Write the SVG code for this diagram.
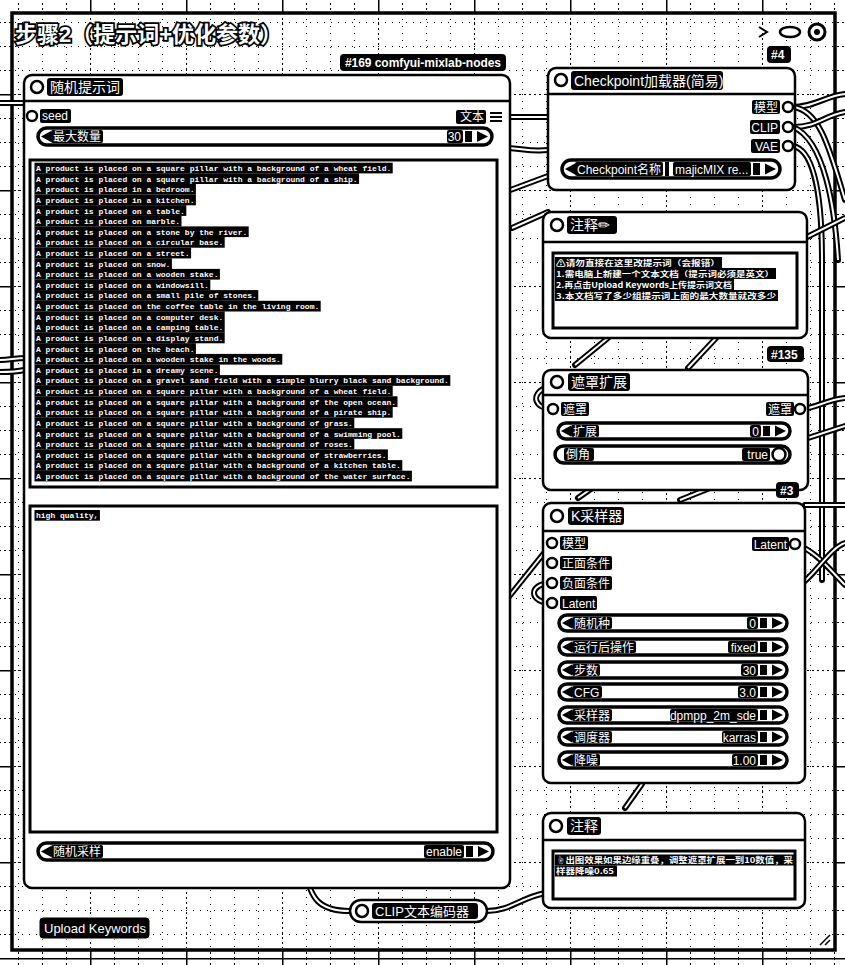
<svg xmlns="http://www.w3.org/2000/svg" width="845" height="965" viewBox="0 0 845 965">
<defs>
<style>
text{font-family:"Liberation Sans","Noto Sans CJK SC",sans-serif}
.node{fill:#fff;stroke:#000;stroke-width:2.5}
.sep{stroke:#000;stroke-width:2.5}
.dot{fill:#fff;stroke:#000;stroke-width:2.5}
.bg{fill:#000}
.wt{fill:#fff;font-size:12px}
.tt{fill:#fff;font-size:14px}
.w{fill:#fff;stroke:#000;stroke-width:3.5}
.tri{fill:#000}
.ta{fill:#fff;stroke:#000;stroke-width:3}
text.mono,.mono text{font-family:"Liberation Mono","Noto Sans CJK SC",monospace;font-size:8px;fill:#fff;font-weight:bold}
text.note{font-family:"Noto Sans CJK SC",sans-serif;font-size:7.6px;fill:#fff;font-weight:bold}
.lk{fill:none;stroke:#000;stroke-width:6;stroke-linecap:round}
.lki{fill:none;stroke:#fff;stroke-width:2}
.bt{fill:#fff;font-size:12px;font-weight:bold}
</style>
<pattern id="gridOut" x="-6" y="-2" width="96" height="96" patternUnits="userSpaceOnUse">
<path d="M0 24.5H96M0 48.5H96M0 72.5H96M24.5 0V96M48.5 0V96M72.5 0V96" stroke="#000" stroke-width="1" stroke-dasharray="2 3" fill="none"/>
<path d="M0 0.75H96M0.75 0V96" stroke="#000" stroke-width="1.5" fill="none"/>
</pattern>
<pattern id="gridIn" x="-6" y="-2" width="96" height="96" patternUnits="userSpaceOnUse">
<path d="M0 24.5H96M0 48.5H96M0 72.5H96M24.5 0V96M48.5 0V96M72.5 0V96" stroke="#000" stroke-width="1" stroke-dasharray="1 6" fill="none"/>
<path d="M0 0.5H96M0.5 0V96" stroke="#000" stroke-width="1" stroke-dasharray="2 3" fill="none"/>
</pattern>
</defs>

<rect width="845" height="965" fill="#fff"/>
<rect width="845" height="965" fill="url(#gridOut)"/>

<g id="group">
<rect x="12" y="13" width="823" height="937" fill="#fff" stroke="#000" stroke-width="3.5"/>
<rect x="14" y="15" width="819" height="933" fill="url(#gridIn)"/>
<text x="15" y="42" font-size="22" font-weight="bold" fill="#fff" stroke="#000" stroke-width="3.5" paint-order="stroke" font-family="Noto Sans CJK SC, sans-serif">步骤2（提示词+优化参数）</text>
<path d="M759,27 L767,32 L759,37" fill="none" stroke="#000" stroke-width="2"/>
<ellipse cx="790" cy="32" rx="10" ry="5" fill="#fff" stroke="#000" stroke-width="2.5"/>
<circle cx="817" cy="32" r="8" fill="#fff" stroke="#000" stroke-width="3"/>
<circle cx="817" cy="32" r="3" fill="#000"/>
<path d="M820,945 L830,935 M825,945 L830,940" stroke="#000" stroke-width="1.5"/>
</g>

<g id="links">
<path class="lk" d="M0,103 H26"/><path class="lki" d="M0,103 H26"/>
<path class="lk" d="M0,360 C10,360 15,358 26,358"/><path class="lki" d="M0,360 C10,360 15,358 26,358"/>
<path class="lk" d="M0,372 C8,372 16,372 24,370"/><path class="lki" d="M0,372 C8,372 16,372 24,370"/>
<path class="lk" d="M497,117 H548"/><path class="lki" d="M497,117 H548"/>
<path class="lk" d="M505,148 C520,148 530,152 548,150"/><path class="lki" d="M505,148 C520,148 530,152 548,150"/>
<path class="lk" d="M505,192 L548,176"/><path class="lki" d="M505,192 L548,176"/>
<path class="lk" d="M512,228 L548,212"/><path class="lki" d="M512,228 L548,212"/>
<path class="lk" d="M575,365 L608,338"/><path class="lki" d="M575,365 L608,338"/>
<path class="lk" d="M688,368 L718,336"/><path class="lki" d="M688,368 L718,336"/>
<path class="lk" d="M578,498 L598,484"/><path class="lki" d="M578,498 L598,484"/>
<path class="lk" d="M680,500 L715,486"/><path class="lki" d="M680,500 L715,486"/>
<path class="lk" d="M508,598 L552,543"/><path class="lki" d="M508,598 L552,543"/>
<path class="lk" d="M552,583 C528,583 528,603 552,603"/><path class="lki" d="M552,583 C528,583 528,603 552,603"/>
<path class="lk" d="M545,388 C530,395 535,409 553,409"/><path class="lki" d="M545,388 C530,395 535,409 553,409"/>
<path class="lk" d="M625,808 L642,784"/><path class="lki" d="M625,808 L642,784"/>
<path class="lk" d="M305,868 C310,900 320,911 350,911"/><path class="lki" d="M305,868 C310,900 320,911 350,911"/>
<path class="lk" d="M487,911 C510,911 520,898 545,893"/><path class="lki" d="M487,911 C510,911 520,898 545,893"/>
<path class="lk" d="M793,107 C815,107 825,96 845,94"/><path class="lki" d="M793,107 C815,107 825,96 845,94"/>
<path class="lk" d="M793,107 C820,110 830,150 845,200"/><path class="lki" d="M793,107 C820,110 830,150 845,200"/>
<path class="lk" d="M793,127 C818,127 825,115 845,112"/><path class="lki" d="M793,127 C818,127 825,115 845,112"/>
<path class="lk" d="M793,127 C825,140 835,210 838,260"/><path class="lki" d="M793,127 C825,140 835,210 838,260"/>
<path class="lk" d="M793,146 C815,150 822,200 822,260 L822,580"/><path class="lki" d="M793,146 C815,150 822,200 822,260 L822,580"/>
<path class="lk" d="M805,238 L845,218"/><path class="lki" d="M805,238 L845,218"/>
<path class="lk" d="M800,409 C815,409 825,400 845,398"/><path class="lki" d="M800,409 C815,409 825,400 845,398"/>
<path class="lk" d="M808,438 L845,426"/><path class="lki" d="M808,438 L845,426"/>
<path class="lk" d="M805,505 H845"/><path class="lki" d="M805,505 H845"/>
<path class="lk" d="M795,544 C815,550 830,570 845,585"/><path class="lki" d="M795,544 C815,550 830,570 845,585"/>
<path class="lk" d="M800,585 C815,575 830,548 845,543"/><path class="lki" d="M800,585 C815,575 830,548 845,543"/>
</g>

<g id="n169">
<rect x="340" y="54" width="166" height="17" rx="4" class="bg"/>
<text x="345" y="67" class="bt" textLength="156">#169 comfyui-mixlab-nodes</text>
<rect class="node" x="24" y="75" width="486" height="813" rx="8"/>
<line class="sep" x1="24" y1="101" x2="510" y2="101"/>
<circle class="dot" cx="37" cy="87" r="6"/>
<rect class="bg" x="47" y="78" width="76" height="18" rx="3"/>
<text class="tt" x="50" y="92">随机提示词</text>
<circle class="dot" cx="32" cy="116" r="5"/>
<rect class="bg" x="40" y="109" width="31" height="14" rx="2"/>
<text class="wt" x="42" y="120">seed</text>
<rect class="bg" x="456" y="110" width="30" height="14" rx="2"/>
<text class="wt" x="484" y="121" text-anchor="end">文本</text>
<path d="M490,113 H502 M490,117 H502 M490,121 H502" stroke="#000" stroke-width="2"/>
<g>
<rect class="w" x="38" y="128" width="454" height="17" rx="8.5"/>
<path class="tri" d="M41,136.5 l10,-5.5 v11 z"/>
<rect class="bg" x="51" y="130" width="52" height="13" rx="2"/>
<text class="wt" x="53" y="141">最大数量</text>
<rect class="bg" x="447" y="130" width="16" height="13" rx="2"/>
<text class="wt" x="461" y="141" text-anchor="end">30</text>
<rect class="bg" x="465" y="131" width="7" height="11"/>
<path class="tri" d="M488,136.5 l-11,-5.5 v11 z"/>
</g>
<rect class="ta" x="30" y="160" width="467" height="327"/>
<g class="bg">
<rect x="34.5" y="162.7" width="358.2" height="10.7"/>
<rect x="34.5" y="173.3" width="324.6" height="10.7"/>
<rect x="34.5" y="183.9" width="161.4" height="10.7"/>
<rect x="34.5" y="194.6" width="161.4" height="10.7"/>
<rect x="34.5" y="205.2" width="151.8" height="10.7"/>
<rect x="34.5" y="215.8" width="147" height="10.7"/>
<rect x="34.5" y="226.4" width="214.2" height="10.7"/>
<rect x="34.5" y="237" width="190.2" height="10.7"/>
<rect x="34.5" y="247.7" width="156.6" height="10.7"/>
<rect x="34.5" y="258.3" width="137.4" height="10.7"/>
<rect x="34.5" y="268.9" width="185.4" height="10.7"/>
<rect x="34.5" y="279.5" width="175.8" height="10.7"/>
<rect x="34.5" y="290.1" width="223.8" height="10.7"/>
<rect x="34.5" y="300.8" width="286.2" height="10.7"/>
<rect x="34.5" y="311.4" width="190.2" height="10.7"/>
<rect x="34.5" y="322" width="190.2" height="10.7"/>
<rect x="34.5" y="332.6" width="190.2" height="10.7"/>
<rect x="34.5" y="343.2" width="161.4" height="10.7"/>
<rect x="34.5" y="353.9" width="247.8" height="10.7"/>
<rect x="34.5" y="364.5" width="185.4" height="10.7"/>
<rect x="34.5" y="375.1" width="415.8" height="10.7"/>
<rect x="34.5" y="385.7" width="358.2" height="10.7"/>
<rect x="34.5" y="396.3" width="363" height="10.7"/>
<rect x="34.5" y="407" width="358.2" height="10.7"/>
<rect x="34.5" y="417.6" width="319.8" height="10.7"/>
<rect x="34.5" y="428.2" width="367.8" height="10.7"/>
<rect x="34.5" y="438.8" width="319.8" height="10.7"/>
<rect x="34.5" y="449.4" width="353.4" height="10.7"/>
<rect x="34.5" y="460.1" width="367.8" height="10.7"/>
<rect x="34.5" y="470.7" width="377.4" height="10.7"/>
</g>
<g class="mono">
<text x="36" y="171">A product is placed on a square pillar with a background of a wheat field.</text>
<text x="36" y="181.6">A product is placed on a square pillar with a background of a ship.</text>
<text x="36" y="192.2">A product is placed in a bedroom.</text>
<text x="36" y="202.9">A product is placed in a kitchen.</text>
<text x="36" y="213.5">A product is placed on a table.</text>
<text x="36" y="224.1">A product is placed on marble.</text>
<text x="36" y="234.7">A product is placed on a stone by the river.</text>
<text x="36" y="245.3">A product is placed on a circular base.</text>
<text x="36" y="256">A product is placed on a street.</text>
<text x="36" y="266.6">A product is placed on snow.</text>
<text x="36" y="277.2">A product is placed on a wooden stake.</text>
<text x="36" y="287.8">A product is placed on a windowsill.</text>
<text x="36" y="298.4">A product is placed on a small pile of stones.</text>
<text x="36" y="309.1">A product is placed on the coffee table in the living room.</text>
<text x="36" y="319.7">A product is placed on a computer desk.</text>
<text x="36" y="330.3">A product is placed on a camping table.</text>
<text x="36" y="340.9">A product is placed on a display stand.</text>
<text x="36" y="351.5">A product is placed on the beach.</text>
<text x="36" y="362.2">A product is placed on a wooden stake in the woods.</text>
<text x="36" y="372.8">A product is placed in a dreamy scene.</text>
<text x="36" y="383.4">A product is placed on a gravel sand field with a simple blurry black sand background.</text>
<text x="36" y="394">A product is placed on a square pillar with a background of a wheat field.</text>
<text x="36" y="404.6">A product is placed on a square pillar with a background of the open ocean.</text>
<text x="36" y="415.3">A product is placed on a square pillar with a background of a pirate ship.</text>
<text x="36" y="425.9">A product is placed on a square pillar with a background of grass.</text>
<text x="36" y="436.5">A product is placed on a square pillar with a background of a swimming pool.</text>
<text x="36" y="447.1">A product is placed on a square pillar with a background of roses.</text>
<text x="36" y="457.7">A product is placed on a square pillar with a background of strawberries.</text>
<text x="36" y="468.4">A product is placed on a square pillar with a background of a kitchen table.</text>
<text x="36" y="479">A product is placed on a square pillar with a background of the water surface.</text>
</g>
<rect class="ta" x="30" y="506" width="467" height="326"/>
<rect class="bg" x="34.5" y="510" width="65.4" height="10.7"/>
<text class="mono" x="36" y="518.3">high quality,</text>
<g>
<rect class="w" x="38" y="843" width="455" height="17" rx="8.5"/>
<path class="tri" d="M41,851.5 l10,-5.5 v11 z"/>
<rect class="bg" x="51" y="845" width="52" height="13" rx="2"/>
<text class="wt" x="53" y="856">随机采样</text>
<rect class="bg" x="424" y="845" width="40" height="13" rx="2"/>
<text class="wt" x="462" y="856" text-anchor="end">enable</text>
<rect class="bg" x="466" y="846" width="7" height="11"/>
<path class="tri" d="M489,851.5 l-11,-5.5 v11 z"/>
</g>
</g>

<g id="clip">
<rect class="node" x="350" y="900" width="137" height="22" rx="11"/>
<circle class="dot" cx="362" cy="911" r="6"/>
<rect class="bg" x="372" y="903" width="106" height="16" rx="3"/>
<text x="375" y="916" font-size="13" fill="#fff">CLIP文本编码器</text>
</g>

<g id="upload">
<rect x="39" y="917" width="111" height="22" rx="4" fill="#000" stroke="#fff" stroke-width="1"/>
<text x="44" y="933" font-size="13" fill="#fff">Upload Keywords</text>
</g>

<g id="n4">
<rect class="bg" x="767" y="46" width="24" height="17" rx="4"/>
<text class="bt" x="771" y="59">#4</text>
<rect class="node" x="548" y="68" width="247" height="122" rx="8"/>
<line class="sep" x1="548" y1="94" x2="795" y2="94"/>
<circle class="dot" cx="561" cy="80" r="6"/>
<rect class="bg" x="571" y="71" width="152" height="19" rx="3"/>
<text class="tt" x="574" y="86">Checkpoint加载器(简易)</text>
<rect class="bg" x="752" y="100" width="28" height="14" rx="2"/>
<text class="wt" x="778" y="111.5" text-anchor="end">模型</text>
<circle class="dot" cx="788" cy="107" r="5"/>
<rect class="bg" x="750" y="120" width="30" height="14" rx="2"/>
<text class="wt" x="778" y="131.5" text-anchor="end">CLIP</text>
<circle class="dot" cx="788" cy="127" r="5"/>
<rect class="bg" x="751" y="139" width="29" height="14" rx="2"/>
<text class="wt" x="778" y="150.5" text-anchor="end">VAE</text>
<circle class="dot" cx="788" cy="146" r="5"/>
<g>
<rect class="w" x="562" y="160" width="218" height="18" rx="9"/>
<path class="tri" d="M565,169 l10,-5.5 v11 z"/>
<rect class="bg" x="575" y="162" width="88" height="14" rx="2"/>
<text class="wt" x="577" y="173.5">Checkpoint名称</text>
<rect class="bg" x="665" y="162" width="4" height="14"/>
<rect class="bg" x="673" y="162" width="78" height="14" rx="2"/>
<text class="wt" x="675" y="173.5">majicMIX re...</text>
<rect class="bg" x="753" y="163" width="7" height="12"/>
<path class="tri" d="M776,169 l-11,-5.5 v11 z"/>
</g>
</g>

<g id="note1">
<rect class="node" x="543" y="212" width="264" height="126" rx="8"/>
<line class="sep" x1="543" y1="242" x2="807" y2="242"/>
<circle class="dot" cx="557" cy="225" r="6"/>
<rect class="bg" x="567" y="216" width="50" height="18" rx="3"/>
<text class="tt" x="570" y="230">注释✏</text>
<rect class="ta" x="553" y="253" width="244" height="75"/>
<rect class="bg" x="555" y="257" width="167" height="11"/>
<rect class="bg" x="555" y="268" width="221" height="11"/>
<rect class="bg" x="555" y="279" width="179" height="11"/>
<rect class="bg" x="555" y="290" width="223" height="11"/>
<text class="note" x="556" y="265.5" textLength="164" lengthAdjust="spacingAndGlyphs">⚠请勿直接在这里改提示词（会报错）</text>
<text class="note" x="556" y="276.5" textLength="218" lengthAdjust="spacingAndGlyphs">1.需电脑上新建一个文本文档（提示词必须是英文）</text>
<text class="note" x="556" y="287.5" textLength="176" lengthAdjust="spacingAndGlyphs">2.再点击Upload Keywords上传提示词文档</text>
<text class="note" x="556" y="298.5" textLength="220" lengthAdjust="spacingAndGlyphs">3.本文档写了多少组提示词上面的最大数量就改多少</text>
</g>

<g id="n135">
<rect class="bg" x="767" y="346" width="37" height="16" rx="4"/>
<text class="bt" x="771" y="358.5">#135</text>
<rect class="node" x="543" y="370" width="265" height="120" rx="8"/>
<line class="sep" x1="543" y1="395" x2="808" y2="395"/>
<circle class="dot" cx="557" cy="382" r="6"/>
<rect class="bg" x="568" y="373" width="62" height="18" rx="3"/>
<text class="tt" x="571" y="387">遮罩扩展</text>
<circle class="dot" cx="553" cy="409" r="5"/>
<rect class="bg" x="561" y="402" width="28" height="14" rx="2"/>
<text class="wt" x="563" y="413.5">遮罩</text>
<rect class="bg" x="766" y="402" width="28" height="14" rx="2"/>
<text class="wt" x="792" y="413.5" text-anchor="end">遮罩</text>
<circle class="dot" cx="800" cy="409" r="5"/>
<g>
<rect class="w" x="558" y="423" width="232" height="16" rx="8"/>
<path class="tri" d="M561,431 l10,-5.5 v11 z"/>
<rect class="bg" x="571" y="425" width="28" height="12" rx="2"/>
<text class="wt" x="573" y="435.5">扩展</text>
<rect class="bg" x="750" y="425" width="11" height="12" rx="2"/>
<text class="wt" x="759" y="435.5" text-anchor="end">0</text>
<rect class="bg" x="763" y="426" width="7" height="10"/>
<path class="tri" d="M786,431 l-11,-5.5 v11 z"/>
</g>
<g>
<rect class="w" x="555" y="446" width="235" height="17" rx="8.5"/>
<rect class="bg" x="564" y="448" width="30" height="13" rx="2"/>
<text class="wt" x="566" y="459">倒角</text>
<rect class="bg" x="742" y="448" width="28" height="13" rx="2"/>
<text class="wt" x="768" y="459" text-anchor="end">true</text>
<circle cx="779" cy="454.5" r="6.5" fill="#fff" stroke="#000" stroke-width="2.5"/>
</g>
</g>

<g id="n3">
<rect class="bg" x="776" y="482" width="23" height="16" rx="4"/>
<text class="bt" x="780" y="494.5">#3</text>
<rect class="node" x="543" y="503" width="262" height="280" rx="8"/>
<line class="sep" x1="543" y1="531" x2="805" y2="531"/>
<circle class="dot" cx="557" cy="516" r="6"/>
<rect class="bg" x="568" y="507" width="56" height="18" rx="3"/>
<text class="tt" x="571" y="521">K采样器</text>
<circle class="dot" cx="552" cy="543" r="5"/>
<rect class="bg" x="560" y="536" width="28" height="14" rx="2"/>
<text class="wt" x="562" y="547.5">模型</text>
<circle class="dot" cx="552" cy="563" r="5"/>
<rect class="bg" x="560" y="556" width="52" height="14" rx="2"/>
<text class="wt" x="562" y="567.5">正面条件</text>
<circle class="dot" cx="552" cy="583" r="5"/>
<rect class="bg" x="560" y="576" width="52" height="14" rx="2"/>
<text class="wt" x="562" y="587.5">负面条件</text>
<circle class="dot" cx="552" cy="603" r="5"/>
<rect class="bg" x="560" y="596" width="37" height="14" rx="2"/>
<text class="wt" x="562" y="607.5">Latent</text>
<rect class="bg" x="752" y="537" width="37" height="14" rx="2"/>
<text class="wt" x="787" y="548.5" text-anchor="end">Latent</text>
<circle class="dot" cx="795" cy="544" r="5"/>
<g>
<rect class="w" x="559" y="615" width="228" height="16" rx="8"/>
<path class="tri" d="M562,623 l10,-5.5 v11 z"/>
<rect class="bg" x="572" y="617" width="40" height="12" rx="2"/>
<text class="wt" x="574" y="627.5">随机种</text>
<rect class="bg" x="747" y="617" width="11" height="12" rx="2"/>
<text class="wt" x="756" y="627.5" text-anchor="end">0</text>
<rect class="bg" x="760" y="618" width="7" height="10"/>
<path class="tri" d="M783,623 l-11,-5.5 v11 z"/>
</g>
<g>
<rect class="w" x="559" y="639" width="228" height="16" rx="8"/>
<path class="tri" d="M562,647 l10,-5.5 v11 z"/>
<rect class="bg" x="572" y="641" width="64" height="12" rx="2"/>
<text class="wt" x="574" y="651.5">运行后操作</text>
<rect class="bg" x="728" y="641" width="30" height="12" rx="2"/>
<text class="wt" x="756" y="651.5" text-anchor="end">fixed</text>
<rect class="bg" x="760" y="642" width="7" height="10"/>
<path class="tri" d="M783,647 l-11,-5.5 v11 z"/>
</g>
<g>
<rect class="w" x="559" y="662" width="228" height="16" rx="8"/>
<path class="tri" d="M562,670 l10,-5.5 v11 z"/>
<rect class="bg" x="572" y="664" width="28" height="12" rx="2"/>
<text class="wt" x="574" y="674.5">步数</text>
<rect class="bg" x="741" y="664" width="17" height="12" rx="2"/>
<text class="wt" x="756" y="674.5" text-anchor="end">30</text>
<rect class="bg" x="760" y="665" width="7" height="10"/>
<path class="tri" d="M783,670 l-11,-5.5 v11 z"/>
</g>
<g>
<rect class="w" x="559" y="684" width="228" height="16" rx="8"/>
<path class="tri" d="M562,692 l10,-5.5 v11 z"/>
<rect class="bg" x="572" y="686" width="30" height="12" rx="2"/>
<text class="wt" x="574" y="696.5">CFG</text>
<rect class="bg" x="738" y="686" width="20" height="12" rx="2"/>
<text class="wt" x="756" y="696.5" text-anchor="end">3.0</text>
<rect class="bg" x="760" y="687" width="7" height="10"/>
<path class="tri" d="M783,692 l-11,-5.5 v11 z"/>
</g>
<g>
<rect class="w" x="559" y="707" width="228" height="16" rx="8"/>
<path class="tri" d="M562,715 l10,-5.5 v11 z"/>
<rect class="bg" x="572" y="709" width="40" height="12" rx="2"/>
<text class="wt" x="574" y="719.5">采样器</text>
<rect class="bg" x="670" y="709" width="88" height="12" rx="2"/>
<text class="wt" x="756" y="719.5" text-anchor="end">dpmpp_2m_sde</text>
<rect class="bg" x="760" y="710" width="7" height="10"/>
<path class="tri" d="M783,715 l-11,-5.5 v11 z"/>
</g>
<g>
<rect class="w" x="559" y="729" width="228" height="16" rx="8"/>
<path class="tri" d="M562,737 l10,-5.5 v11 z"/>
<rect class="bg" x="572" y="731" width="40" height="12" rx="2"/>
<text class="wt" x="574" y="741.5">调度器</text>
<rect class="bg" x="722" y="731" width="36" height="12" rx="2"/>
<text class="wt" x="756" y="741.5" text-anchor="end">karras</text>
<rect class="bg" x="760" y="732" width="7" height="10"/>
<path class="tri" d="M783,737 l-11,-5.5 v11 z"/>
</g>
<g>
<rect class="w" x="559" y="752" width="228" height="16" rx="8"/>
<path class="tri" d="M562,760 l10,-5.5 v11 z"/>
<rect class="bg" x="572" y="754" width="28" height="12" rx="2"/>
<text class="wt" x="574" y="764.5">降噪</text>
<rect class="bg" x="732" y="754" width="26" height="12" rx="2"/>
<text class="wt" x="756" y="764.5" text-anchor="end">1.00</text>
<rect class="bg" x="760" y="755" width="7" height="10"/>
<path class="tri" d="M783,760 l-11,-5.5 v11 z"/>
</g>
</g>

<g id="note2">
<rect class="node" x="543" y="813" width="262" height="95" rx="8"/>
<line class="sep" x1="543" y1="840" x2="805" y2="840"/>
<circle class="dot" cx="556" cy="826" r="6"/>
<rect class="bg" x="567" y="817" width="34" height="18" rx="3"/>
<text class="tt" x="570" y="831">注释</text>
<rect class="ta" x="553" y="851" width="242" height="48"/>
<rect class="bg" x="555" y="854.5" width="240" height="11"/>
<rect class="bg" x="555" y="865.5" width="62" height="11"/>
<text class="note" x="556" y="863" textLength="237" lengthAdjust="spacingAndGlyphs">☝出图效果如果边缘重叠，调整遮罩扩展一到10数值，采</text>
<text class="note" x="556" y="874" textLength="58" lengthAdjust="spacingAndGlyphs">样器降噪0.65</text>
</g>
</svg>
